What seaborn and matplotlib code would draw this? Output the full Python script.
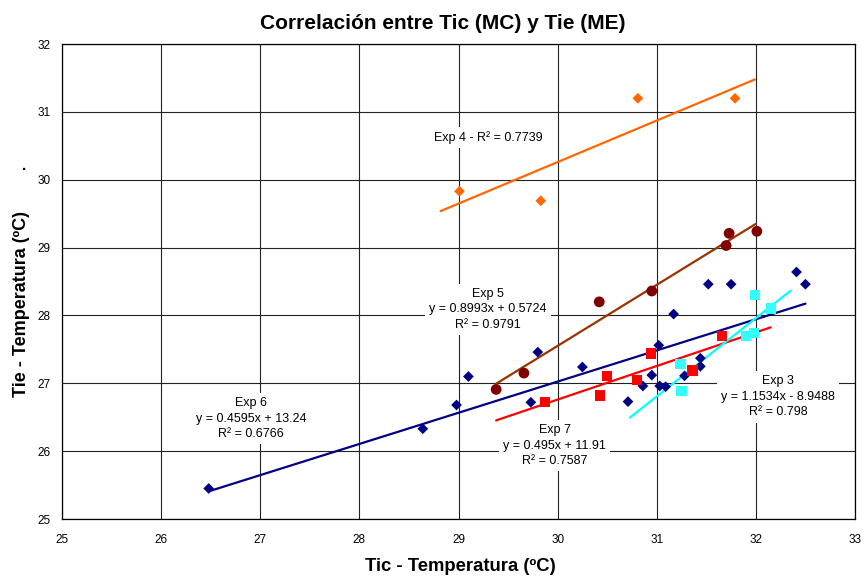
import numpy as np
import pandas as pd
import matplotlib
matplotlib.use("Agg")
import matplotlib.pyplot as plt
import seaborn as sns

# datos
exp6_tic = [26.48, 28.64, 28.98, 29.10, 29.73, 29.80, 30.25, 30.71, 30.86, 30.95,
            31.02, 31.03, 31.09, 31.17, 31.28, 31.44, 31.44, 31.52, 31.75, 32.41, 32.50]
exp6_tie = [25.45, 26.33, 26.68, 27.10, 26.72, 27.46, 27.24, 26.73, 26.96, 27.12,
            27.56, 26.96, 26.95, 28.02, 27.11, 27.37, 27.25, 28.46, 28.46, 28.64, 28.46]

exp7_tic = [29.87, 30.43, 30.50, 30.80, 30.94, 31.36, 31.66]
exp7_tie = [26.72, 26.82, 27.11, 27.05, 27.44, 27.19, 27.70]

exp3_tic = [31.24, 31.25, 31.90, 31.98, 31.99, 32.15]
exp3_tie = [27.28, 26.89, 27.70, 27.74, 28.30, 28.10]

exp5_tic = [29.38, 29.66, 30.42, 30.95, 31.70, 31.73, 32.01]
exp5_tie = [26.91, 27.15, 28.20, 28.36, 29.03, 29.21, 29.24]

exp4_tic = [29.01, 29.83, 30.81, 31.79]
exp4_tie = [29.83, 29.69, 31.20, 31.20]

# lineas de tendencia (pendiente, ordenada, rango en x)
trend_names = ["Exp 6", "Exp 7", "Exp 3", "Exp 5", "Exp 4"]
trend_slope = [0.4595, 0.495, 1.1534, 0.8993, 0.612]
trend_icpt = [13.24, 11.91, -8.9488, 0.5724, 11.90]
trend_x0 = [26.48, 29.38, 30.73, 29.38, 28.82]
trend_x1 = [32.50, 32.15, 32.35, 32.00, 31.99]
trend_colors = ["#000080", "#FF0000", "#00FFFF", "#993300", "#FF6600"]

# etiquetas de las lineas
label_text = ["Exp 4 - R² = 0.7739",
              "Exp 5\ny = 0.8993x + 0.5724\nR² = 0.9791",
              "Exp 6\ny = 0.4595x + 13.24\nR² = 0.6766",
              "Exp 7\ny = 0.495x + 11.91\nR² = 0.7587",
              "Exp 3\ny = 1.1534x - 8.9488\nR² = 0.798"]
label_x = [29.30, 29.30, 26.91, 29.97, 32.225]
label_y = [30.62, 28.09, 26.48, 26.08, 26.80]

sns.set_style("white")
plt.rcParams["font.family"] = ["Liberation Sans", "DejaVu Sans"]
plt.rcParams["text.color"] = "black"
plt.rcParams["xtick.color"] = "black"
plt.rcParams["ytick.color"] = "black"

fig = plt.figure(figsize=(8.64, 5.78), dpi=100)
ax = fig.add_axes([62 / 864, 1 - 519 / 578, 793 / 864, 475 / 578])

ax.set_xlim(25, 33)
ax.set_ylim(25, 32)
ax.set_xticks(range(25, 34))
ax.set_yticks(range(25, 33))
ax.grid(True, color="#222222", linewidth=0.8)
ax.set_axisbelow(True)
for s in ax.spines.values():
    s.set_color("black")
    s.set_linewidth(0.9)
ax.tick_params(axis="both", direction="out", length=4, width=0.8, color="black",
               labelcolor="black", labelsize=8.5, pad=4)
ax.tick_params(axis="x", pad=7)

# lineas
for i in range(len(trend_names)):
    xs = np.array([trend_x0[i], trend_x1[i]])
    ys = trend_slope[i] * xs + trend_icpt[i]
    sns.lineplot(x=xs, y=ys, color=trend_colors[i], linewidth=1.6, ax=ax, zorder=3)

# puntos
sns.scatterplot(x=exp6_tic, y=exp6_tie, marker="D", s=30, color="#000080",
                edgecolor="none", ax=ax, zorder=4)
sns.scatterplot(x=exp7_tic, y=exp7_tie, marker="s", s=55, color="#FF0000",
                edgecolor="none", ax=ax, zorder=4)
sns.scatterplot(x=exp3_tic, y=exp3_tie, marker="s", s=55, color="#33FFFF",
                edgecolor="none", ax=ax, zorder=4)
sns.scatterplot(x=exp5_tic, y=exp5_tie, marker="o", s=60, color="#800000",
                edgecolor="none", ax=ax, zorder=4)
sns.scatterplot(x=exp4_tic, y=exp4_tie, marker="D", s=30, color="#FF6600",
                edgecolor="none", ax=ax, zorder=4)

box = dict(facecolor="white", edgecolor="none", pad=3)
for t, lx, ly in zip(label_text, label_x, label_y):
    ax.text(lx, ly, t, fontsize=9, color="black", ha="center", va="center",
            bbox=box, zorder=2.5, linespacing=1.4)

fig.text(443 / 864, 1 - 29 / 578, "Correlación entre Tic (MC) y Tie (ME)",
         fontsize=15, fontweight="bold", color="black", ha="center", va="baseline")
fig.text(460 / 864, 1 - 571 / 578, "Tic - Temperatura (ºC)",
         fontsize=13.3, fontweight="bold", color="black", ha="center", va="baseline")
fig.text(22 / 864, 1 - 304 / 578, "Tie - Temperatura (ºC)",
         fontsize=13, fontweight="bold", color="black", ha="center", va="center",
         rotation=90)
fig.text(24 / 864, 1 - 170 / 578, ".", fontsize=11, fontweight="bold",
         color="black", ha="center", va="baseline")

fig.savefig("out.png", dpi=100)
